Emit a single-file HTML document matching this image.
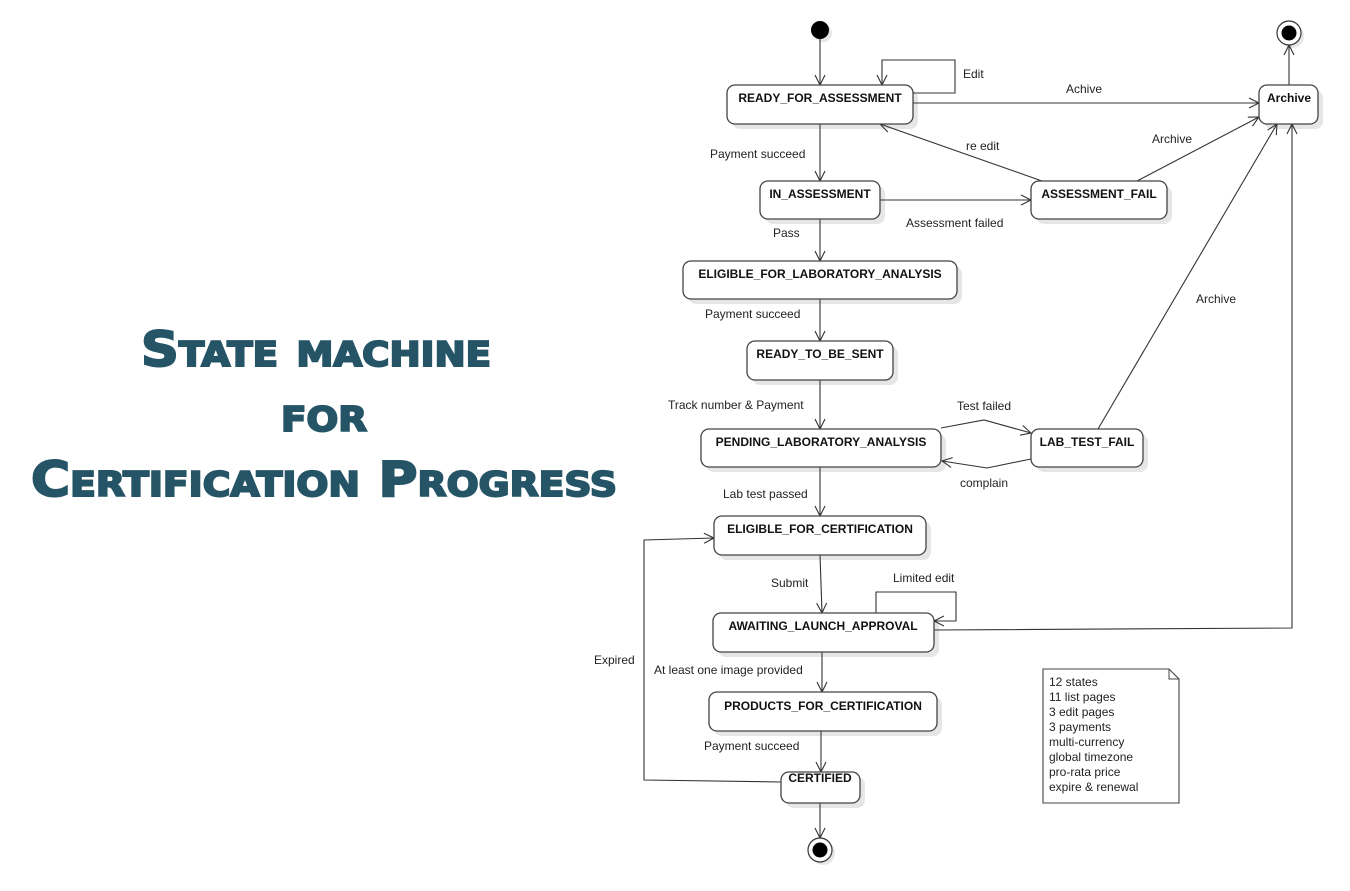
<!DOCTYPE html>
<html><head><meta charset="utf-8"><style>
body{margin:0;background:#fff}
svg{display:block}
.b{fill:#fff;stroke:#444;stroke-width:1.3}
.s{fill:#e6e6e6;stroke:none}
.n{font:bold 12px "Liberation Sans",sans-serif;fill:#111;text-anchor:middle}
.l{font:12px "Liberation Sans",sans-serif;fill:#222}
.e{fill:none;stroke:#333;stroke-width:1.1}
.t{font-family:"DejaVu Sans","Liberation Sans",sans-serif;font-weight:bold;font-variant:small-caps;fill:#245466;stroke:#245466;stroke-width:2;text-anchor:middle}
</style></head><body>
<svg width="1350" height="891" viewBox="0 0 1350 891" xmlns="http://www.w3.org/2000/svg">
<defs><marker id="a" markerWidth="12" markerHeight="12" refX="11" refY="6" orient="auto" markerUnits="userSpaceOnUse"><path d="M1,1 L11,6 L1,11" fill="none" stroke="#333" stroke-width="1.1"/></marker></defs>

<text class="t" x="316" y="366" font-size="48" textLength="350" lengthAdjust="spacingAndGlyphs">State machine</text>
<text class="t" x="324" y="431" font-size="48" textLength="86" lengthAdjust="spacingAndGlyphs">for</text>
<text class="t" x="324" y="496" font-size="48" textLength="586" lengthAdjust="spacingAndGlyphs">Certification Progress</text>

<g class="s">
<rect x="732" y="90" width="186" height="39" rx="8"/>
<rect x="1264" y="90" width="59" height="39" rx="8"/>
<rect x="765" y="186" width="120" height="38" rx="8"/>
<rect x="1036" y="186" width="136" height="38" rx="8"/>
<rect x="688" y="266" width="274" height="38" rx="8"/>
<rect x="752" y="346" width="146" height="39" rx="8"/>
<rect x="706" y="434" width="240" height="38" rx="8"/>
<rect x="1036" y="434" width="112" height="38" rx="8"/>
<rect x="719" y="521" width="212" height="39" rx="8"/>
<rect x="718" y="618" width="221" height="39" rx="8"/>
<rect x="714" y="697" width="228" height="39" rx="8"/>
<rect x="786" y="777" width="79" height="31" rx="8"/>
<circle cx="823" cy="33" r="9"/><circle cx="1292" cy="36" r="12"/><circle cx="823" cy="853" r="12"/>
</g>

<g class="e">
<line x1="820" y1="39" x2="820" y2="85" marker-end="url(#a)"/>
<polyline points="913,93 955,93 955,60 882,60 882,85" marker-end="url(#a)"/>
<line x1="913" y1="103" x2="1259" y2="103" marker-end="url(#a)"/>
<line x1="1289" y1="85" x2="1289" y2="45" marker-end="url(#a)"/>
<line x1="1042" y1="181" x2="880" y2="124" marker-end="url(#a)"/>
<line x1="1137" y1="181" x2="1259" y2="117" marker-end="url(#a)"/>
<line x1="820" y1="124" x2="820" y2="181" marker-end="url(#a)"/>
<line x1="880" y1="200" x2="1031" y2="200" marker-end="url(#a)"/>
<line x1="820" y1="219" x2="820" y2="261" marker-end="url(#a)"/>
<line x1="820" y1="299" x2="820" y2="341" marker-end="url(#a)"/>
<line x1="820" y1="380" x2="820" y2="429" marker-end="url(#a)"/>
<polyline points="941,428 984,420 1031,433" marker-end="url(#a)"/>
<polyline points="1031,459 987,468 942,461" marker-end="url(#a)"/>
<line x1="1098" y1="429" x2="1277" y2="124" marker-end="url(#a)"/>
<line x1="820" y1="467" x2="820" y2="516" marker-end="url(#a)"/>
<line x1="820" y1="555" x2="822" y2="613" marker-end="url(#a)"/>
<polyline points="876,613 876,592 956,592 956,621 934,621" marker-end="url(#a)"/>
<polyline points="934,630 1292,628 1292,124" marker-end="url(#a)"/>
<line x1="822" y1="652" x2="822" y2="692" marker-end="url(#a)"/>
<line x1="821" y1="731" x2="821" y2="772" marker-end="url(#a)"/>
<polyline points="781,782 644,780 644,540 714,538" marker-end="url(#a)"/>
<line x1="820" y1="803" x2="820" y2="838" marker-end="url(#a)"/>
</g>

<circle cx="820" cy="30" r="9" fill="#000"/>
<circle cx="1289" cy="33" r="12" fill="#fff" stroke="#333" stroke-width="1.2"/><circle cx="1289" cy="33" r="7.5" fill="#000"/>
<circle cx="820" cy="850" r="12" fill="#fff" stroke="#333" stroke-width="1.2"/><circle cx="820" cy="850" r="7.5" fill="#000"/>

<rect class="b" x="727" y="85" width="186" height="39" rx="8"/><text class="n" x="820" y="102">READY_FOR_ASSESSMENT</text>
<rect class="b" x="1259" y="85" width="59" height="39" rx="8"/><text class="n" x="1289" y="102">Archive</text>
<rect class="b" x="760" y="181" width="120" height="38" rx="8"/><text class="n" x="820" y="198">IN_ASSESSMENT</text>
<rect class="b" x="1031" y="181" width="136" height="38" rx="8"/><text class="n" x="1099" y="198">ASSESSMENT_FAIL</text>
<rect class="b" x="683" y="261" width="274" height="38" rx="8"/><text class="n" x="820" y="278">ELIGIBLE_FOR_LABORATORY_ANALYSIS</text>
<rect class="b" x="747" y="341" width="146" height="39" rx="8"/><text class="n" x="820" y="358">READY_TO_BE_SENT</text>
<rect class="b" x="701" y="429" width="240" height="38" rx="8"/><text class="n" x="821" y="446">PENDING_LABORATORY_ANALYSIS</text>
<rect class="b" x="1031" y="429" width="112" height="38" rx="8"/><text class="n" x="1087" y="446">LAB_TEST_FAIL</text>
<rect class="b" x="714" y="516" width="212" height="39" rx="8"/><text class="n" x="820" y="533">ELIGIBLE_FOR_CERTIFICATION</text>
<rect class="b" x="713" y="613" width="221" height="39" rx="8"/><text class="n" x="823" y="630">AWAITING_LAUNCH_APPROVAL</text>
<rect class="b" x="709" y="692" width="228" height="39" rx="8"/><text class="n" x="823" y="710">PRODUCTS_FOR_CERTIFICATION</text>
<rect class="b" x="781" y="772" width="79" height="31" rx="8"/><text class="n" x="820" y="782">CERTIFIED</text>

<g class="l">
<text x="963" y="78">Edit</text>
<text x="1066" y="93">Achive</text>
<text x="966" y="150">re edit</text>
<text x="1152" y="143">Archive</text>
<text x="710" y="158">Payment succeed</text>
<text x="906" y="227">Assessment failed</text>
<text x="773" y="237">Pass</text>
<text x="705" y="318">Payment succeed</text>
<text x="1196" y="303">Archive</text>
<text x="668" y="409">Track number &amp; Payment</text>
<text x="957" y="410">Test failed</text>
<text x="960" y="487">complain</text>
<text x="723" y="498">Lab test passed</text>
<text x="771" y="587">Submit</text>
<text x="893" y="582">Limited edit</text>
<text x="594" y="664">Expired</text>
<text x="654" y="674">At least one image provided</text>
<text x="704" y="750">Payment succeed</text>
</g>

<path d="M1043,669 L1169,669 L1179,679 L1179,803 L1043,803 Z" fill="#fff" stroke="#444" stroke-width="1.1"/>
<path d="M1169,669 L1169,679 L1179,679" fill="none" stroke="#444" stroke-width="1"/>
<g class="l">
<text x="1049" y="686">12 states</text>
<text x="1049" y="701">11 list pages</text>
<text x="1049" y="716">3 edit pages</text>
<text x="1049" y="731">3 payments</text>
<text x="1049" y="746">multi-currency</text>
<text x="1049" y="761">global timezone</text>
<text x="1049" y="776">pro-rata price</text>
<text x="1049" y="791">expire &amp; renewal</text>
</g>
</svg>
</body></html>
